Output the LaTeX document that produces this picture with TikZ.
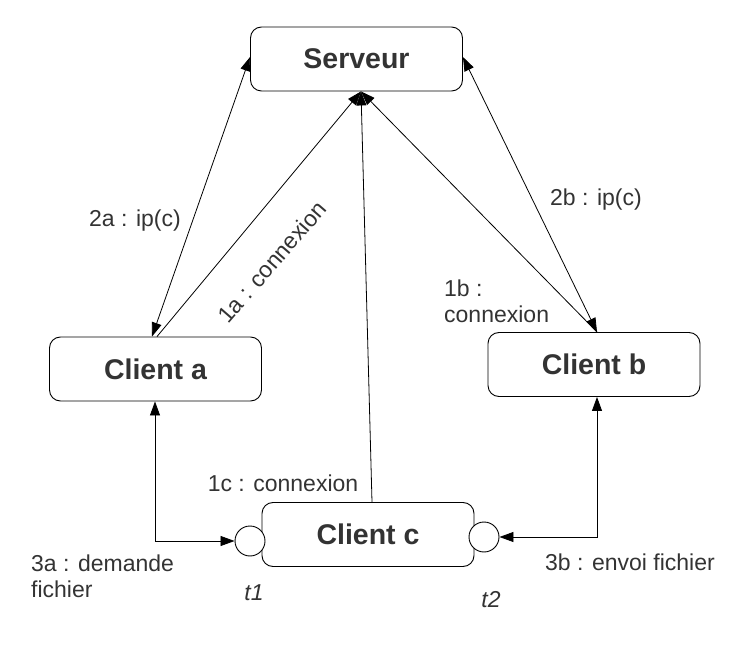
\documentclass[tikz,border=0pt]{standalone}
\usepackage{fontspec}
\setmainfont{Liberation Sans}
\usetikzlibrary{arrows.meta,calc}
\definecolor{txt}{HTML}{333333}
\begin{document}
\begin{tikzpicture}[x=1pt,y=-1pt,
  box/.style={draw,line width=0.9pt,rounded corners=11pt,minimum width=212pt,minimum height=64pt,inner sep=0pt,
     font=\fontsize{28.5}{30}\selectfont\bfseries,text=txt},
  port/.style={draw,line width=0.9pt,circle,fill=white,minimum size=30pt,inner sep=0pt},
  lbl/.style={font=\fontsize{23}{26}\selectfont,text=txt,inner sep=0pt},
  conn/.style={line width=0.8pt},
  tip/.style={-{Triangle[length=14pt,width=10pt]}},
  tips/.style={{Triangle[length=14pt,width=10pt]}-{Triangle[length=14pt,width=10pt]}}]
\useasboundingbox (0,0) rectangle (742,668);
\node[box] (srv) at (356.5,59) {Serveur};
\node[box] (ca) at (155.5,369) {Client a};
\node[box] (cb) at (594,364.5) {Client b};
\node[box] (cc) at (368,534.5) {Client c};
\node[port] (t1) at (250,541) {};
\node[port] (t2) at (484,537) {};
% connectors
\draw[conn,tips] ([xshift=-3.5pt]ca.north) -- ([yshift=2pt]srv.west);
\draw[conn,tip] ([xshift=1.5pt]ca.north) -- ([xshift=4.5pt]srv.south);
\draw[conn,tips] ([yshift=2pt]srv.east) -- ([xshift=3pt]cb.north);
\draw[conn,tip] ([xshift=3pt]cb.north) -- ([xshift=4.5pt]srv.south);
\draw[conn,tip] ([xshift=4pt]cc.north) -- ([xshift=4.5pt]srv.south);
\draw[conn,tips] ([xshift=-0.5pt]ca.south) |- (t1.west);
\draw[conn,tips] ([xshift=3pt]cb.south) |- (t2.east);
% labels
\node[lbl] (l2a) at (135,221) {2a : ip(c)};
\node[lbl,rotate=49] (l1a) at (272,262) {1a : connexion};
\node[lbl] (l2b) at (596,200) {2b : ip(c)};
\node[lbl,align=left,anchor=north west] (l1b) at (444,280) {1b :\\connexion};
\node[lbl] (l1c) at (283,483) {1c : connexion};
\node[lbl,align=left,anchor=north west] (l3a) at (31,555) {3a : demande\\fichier};
\node[lbl] (l3b) at (630,562) {3b : envoi fichier};
\node[lbl,font=\fontsize{23}{26}\selectfont\itshape] (lt1) at (254,593) {t1};
\node[lbl,font=\fontsize{23}{26}\selectfont\itshape] (lt2) at (491,600) {t2};
\end{tikzpicture}
\end{document}
